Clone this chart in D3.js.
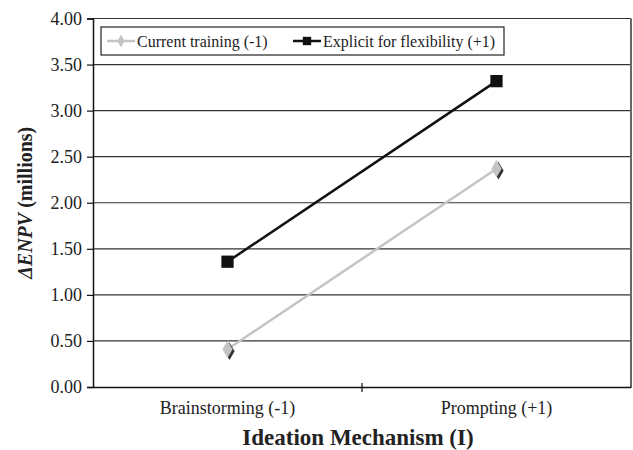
<!DOCTYPE html>
<html>
<head>
<meta charset="utf-8">
<script src="https://cdn.jsdelivr.net/npm/d3@7"></script>
<style>
  body { margin: 0; background: #fff; }
  text { font-family: "Liberation Serif", "Times New Roman", serif; fill: #222; }
</style>
</head>
<body>
<script>
// chart data
var categories = ["Brainstorming (-1)", "Prompting (+1)"];
var seriesNames = ["Current training (-1)", "Explicit for flexibility (+1)"];
var currentTraining = [0.41, 2.37];
var explicitFlex = [1.36, 3.32];
var yTicks = [0, 0.5, 1, 1.5, 2, 2.5, 3, 3.5, 4];

var svgWidth = 633, svgHeight = 450;
var margin = { top: 18.5, right: 2, bottom: 63, left: 93 };
var width = svgWidth - margin.left - margin.right;
var height = svgHeight - margin.top - margin.bottom;

var svg = d3.select("body").append("svg")
  .attr("width", svgWidth)
  .attr("height", svgHeight);

var chartGroup = svg.append("g")
  .attr("transform", "translate(" + margin.left + "," + margin.top + ")");

var xScale = d3.scaleBand().domain(categories).range([0, width]);
var yScale = d3.scaleLinear().domain([0, 4]).range([height, 0]);

// gridlines
chartGroup.selectAll(".grid").data(yTicks.slice(1)).enter()
  .append("line")
  .attr("x1", 0).attr("x2", width)
  .attr("y1", d => yScale(d)).attr("y2", d => yScale(d))
  .attr("stroke", "#333").attr("stroke-width", 1.2);

// right border
chartGroup.append("line")
  .attr("x1", width).attr("x2", width)
  .attr("y1", 0).attr("y2", height)
  .attr("stroke", "#666").attr("stroke-width", 2);

// y axis
var yAxis = d3.axisLeft(yScale).tickValues(yTicks).tickFormat(d3.format(".2f")).tickSize(6).tickPadding(5);
var yG = chartGroup.append("g").call(yAxis);
yG.select(".domain").attr("stroke", "#111").attr("stroke-width", 1.5);
yG.selectAll(".tick line").attr("stroke", "#111").attr("stroke-width", 1.2);
yG.selectAll(".tick text").style("font-size", "18px").attr("fill", "#222")
  .style("font-family", "'Liberation Serif', serif");

// x axis
var xAxis = d3.axisBottom(xScale).tickSize(0).tickPadding(14);
var xG = chartGroup.append("g").attr("transform", "translate(0," + height + ")").call(xAxis);
xG.select(".domain").attr("stroke", "#111").attr("stroke-width", 1.5);
xG.selectAll(".tick text").style("font-size", "18px").attr("fill", "#222")
  .style("font-family", "'Liberation Serif', serif");

// category boundary ticks
chartGroup.selectAll(".xsep").data([categories[1]]).enter()
  .append("line")
  .attr("x1", d => xScale(d)).attr("x2", d => xScale(d))
  .attr("y1", height - 4).attr("y2", height + 5)
  .attr("stroke", "#111").attr("stroke-width", 1.2);

// lines
var seriesData = [
  { name: seriesNames[0], values: currentTraining, color: "#c4c4c4", marker: "diamond" },
  { name: seriesNames[1], values: explicitFlex, color: "#111", marker: "square" }
];

var line = d3.line()
  .x((d, i) => xScale(categories[i]) + xScale.bandwidth() / 2)
  .y(d => yScale(d));

seriesData.forEach(function(s) {
  chartGroup.append("path")
    .datum(s.values)
    .attr("d", line)
    .attr("fill", "none")
    .attr("stroke", s.color)
    .attr("stroke-width", 2.5);

  var sym = s.marker === "diamond" ? d3.symbolDiamond : d3.symbolSquare;
  var size = s.marker === "diamond" ? 90 : 150;
  if (s.marker === "diamond") {
    chartGroup.selectAll(null).data(s.values).enter()
      .append("path")
      .attr("d", d3.symbol().type(sym).size(size))
      .attr("transform", (d, i) => "translate(" + (xScale(categories[i]) + xScale.bandwidth() / 2 + 2) + "," + (yScale(d) + 2) + ")")
      .attr("fill", "#333");
  }
  chartGroup.selectAll(null).data(s.values).enter()
    .append("path")
    .attr("d", d3.symbol().type(sym).size(size))
    .attr("transform", (d, i) => "translate(" + (xScale(categories[i]) + xScale.bandwidth() / 2) + "," + yScale(d) + ")")
    .attr("fill", s.color);
});

// legend
var legend = chartGroup.append("g").attr("transform", "translate(8,8.5)");
legend.append("rect")
  .attr("width", 403).attr("height", 28)
  .attr("fill", "#fff").attr("stroke", "#222").attr("stroke-width", 1.2);

var legendX = [6, 192];
seriesData.forEach(function(s, i) {
  var g = legend.append("g").attr("transform", "translate(" + legendX[i] + ",14)");
  g.append("line").attr("x1", 0).attr("x2", 28).attr("y1", 0).attr("y2", 0)
    .attr("stroke", s.color).attr("stroke-width", 2.5);
  g.append("path")
    .attr("d", d3.symbol().type(s.marker === "diamond" ? d3.symbolDiamond : d3.symbolSquare).size(s.marker === "diamond" ? 45 : 70))
    .attr("transform", "translate(14,0)")
    .attr("fill", s.color);
  g.append("text").attr("x", 30).attr("y", 5.5)
    .style("font-size", "16px").text(s.name);
});

// axis titles
svg.append("text")
  .attr("x", margin.left + width / 2 - 4).attr("y", 445)
  .attr("text-anchor", "middle")
  .style("font-size", "23px").style("font-weight", "bold")
  .text("Ideation Mechanism (I)");

var yTitle = svg.append("text")
  .attr("transform", "translate(32," + (margin.top + height / 2) + ") rotate(-90)")
  .attr("text-anchor", "middle")
  .style("font-size", "20px").style("font-weight", "bold");
yTitle.append("tspan").text("Δ").style("font-style", "italic");
yTitle.append("tspan").text("ENPV").style("font-style", "italic");
yTitle.append("tspan").text(" (millions)");
</script>
</body>
</html>
